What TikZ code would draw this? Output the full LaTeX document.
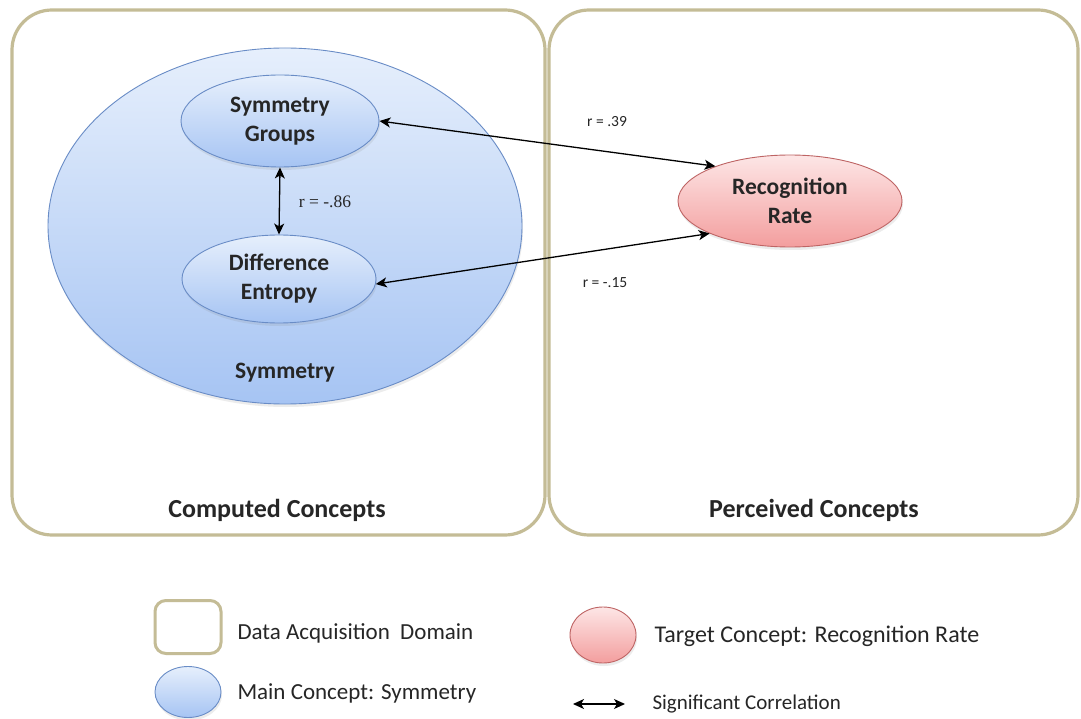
\documentclass[tikz,border=0pt]{standalone}
\usepackage{fontspec}
\setmainfont{Carlito}
\newfontfamily\serifr{Liberation Serif}
\usetikzlibrary{shapes.geometric,arrows.meta,shadows}
\definecolor{tanline}{RGB}{196,188,150}
\definecolor{bluetop}{RGB}{230,239,252}
\definecolor{bluebot}{RGB}{166,196,243}
\definecolor{blueline}{RGB}{105,140,198}
\definecolor{pinktop}{RGB}{253,230,230}
\definecolor{pinkbot}{RGB}{243,158,158}
\definecolor{pinkline}{RGB}{190,100,100}
\tikzset{
  domainbox/.style={draw=tanline, line width=3.2pt, rounded corners=40pt, fill=white, inner sep=0pt},
  legbox/.style={draw=tanline, line width=3pt, rounded corners=11pt, fill=white, inner sep=0pt},
  blueell/.style={ellipse, draw=blueline, line width=0.9pt, top color=bluetop, bottom color=bluebot, inner sep=0pt,
     drop shadow={opacity=0.15, shadow xshift=1pt, shadow yshift=-3pt}},
  pinkell/.style={ellipse, draw=pinkline, line width=0.9pt, top color=pinktop, bottom color=pinkbot, inner sep=0pt,
     drop shadow={opacity=0.15, shadow xshift=1pt, shadow yshift=-3pt}},
  conlabel/.style={font=\fontsize{23.5}{29}\selectfont\bfseries, align=center, text=black!85},
  titlelabel/.style={font=\fontsize{26}{31}\selectfont\bfseries, text=black!85},
  smalllabel/.style={font=\fontsize{15.5}{18}\selectfont, text=black!85},
  leglabel/.style={font=\fontsize{23}{27}\selectfont, anchor=west, text=black!85},
  corr/.style={{Stealth[length=11pt,width=10pt,inset=3pt]}-{Stealth[length=11pt,width=10pt,inset=3pt]}, line width=1.3pt, black}
}
\begin{document}
\begin{tikzpicture}[x=1pt,y=-1pt]
\useasboundingbox (0,0) rectangle (1081,719);
\fill[white] (0,0) rectangle (1081,719);
% domains
\node[domainbox, minimum width=533pt, minimum height=525pt] (left) at (278.5,272.5) {};
\node[domainbox, minimum width=529pt, minimum height=525pt] (right) at (813.5,272.5) {};
\node[titlelabel] (cc) at (277,510) {Computed Concepts};
\node[titlelabel] (pc) at (814,510) {Perceived Concepts};
% main concept
\node[blueell, minimum width=474pt, minimum height=356pt] (sym) at (285,226) {};
\node[conlabel] (symlab) at (285,373) {Symmetry};
\node[blueell, conlabel, minimum width=198pt, minimum height=92pt] (sg) at (280,121) {Symmetry\\Groups};
\node[blueell, conlabel, minimum width=194pt, minimum height=88pt] (de) at (279,279) {Difference\\Entropy};
% target
\node[pinkell, conlabel, minimum width=224pt, minimum height=92pt] (rr) at (790,201) {Recognition\\Rate};
% correlations
\draw[corr] (sg.south) -- (de.north);
\node[font=\fontsize{17.5}{20}\selectfont\serifr, text=black!85] (l86) at (325,202) {r = -.86};
\draw[corr] (sg.east) -- (rr.155);
\draw[corr] (de.-3) -- (rr.202);
\node[smalllabel] (l39) at (607,122) {r = .39};
\node[smalllabel] (l15) at (605,283) {r = -.15};
% legend
\node[legbox, minimum width=66pt, minimum height=53pt] (lgbox) at (188,627) {};
\node[leglabel] (lgboxt) at (234,633) {Data Acquisition\ \ Domain};
\node[blueell, minimum width=66pt, minimum height=51pt] (lgblue) at (188,692) {};
\node[leglabel] (lgbluet) at (234,693) {Main Concept: Symmetry};
\node[pinkell, minimum width=66pt, minimum height=56pt] (lgpink) at (603,635) {};
\node[leglabel, font=\fontsize{24}{28}\selectfont] (lgpinkt) at (651,636) {Target Concept: Recognition Rate};
\coordinate (la) at (573,704);
\coordinate (lb) at (625,704);
\draw[corr] (la) -- (lb);
\node[leglabel, font=\fontsize{21}{26}\selectfont] (lgarrt) at (649,704) {Significant Correlation};
\end{tikzpicture}
\end{document}
